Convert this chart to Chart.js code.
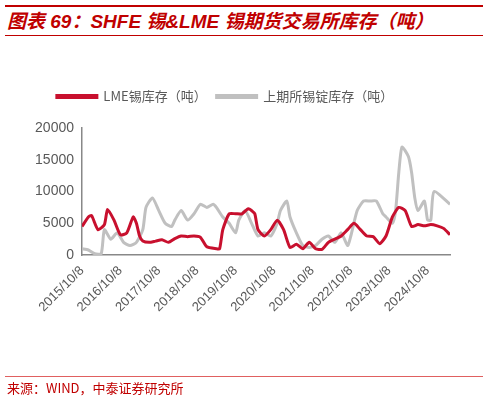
<!DOCTYPE html>
<html><head><meta charset="utf-8">
<script src="https://cdn.jsdelivr.net/npm/chart.js@4"></script>
<style>
body{margin:0;width:488px;height:400px;position:relative;background:#fff;overflow:hidden;font-family:"Noto Sans CJK SC",sans-serif}
#top{position:absolute;left:5px;right:5px;top:5px;height:2px;background:#C00000}
#title{position:absolute;left:7px;top:6px;color:#C00000;font-size:19px;font-weight:bold;font-style:italic;font-family:"Liberation Sans","Noto Sans CJK SC",sans-serif;white-space:nowrap}
#tline{position:absolute;left:5px;right:5px;top:35px;height:1px;background:#C00000}
#fline{position:absolute;left:5px;right:5px;top:376px;height:1px;background:#E06060}
#foot{position:absolute;left:7px;top:378px;color:#C00000;font-size:13px;white-space:nowrap}
canvas{position:absolute;left:0;top:0}
</style></head><body>
<div id="top"></div>
<div id="title">图表 69：SHFE 锡&amp;LME 锡期货交易所库存（吨）</div>
<div id="tline"></div>
<div style="position:absolute;left:0;top:0;width:488px;height:400px"><canvas id="c"></canvas></div>
<div id="fline"></div>
<div id="foot">来源：WIND，中泰证券研究所</div>
<script>
// x = 自 2015/10 起的月数
const lmeMonths = [0,2,3,5,7,8,10,12,14,16,17,18,19,21,23,25,27,29,31,33,35,37,39,42,43,44,46,48,50,52,53,54,55,57,59,61,63,65,67,69,71,73,75,77,79,81,83,85,87,89,91,93,95,97,99,101,103,105,107,109,111,113,115];
const lmeValues = [4500,6000,6200,4000,4800,7200,5500,3200,3500,6000,5000,3000,2200,2000,2200,2400,2000,2600,3000,2900,3000,2800,1300,1000,1000,4000,6500,6500,6500,7300,7000,6500,4000,3000,4000,5500,4000,1200,1700,1000,2000,1000,900,2000,2500,3000,4000,5000,4000,3000,2900,1800,3000,6000,7500,7000,4500,4800,4600,4800,4600,4200,3200,2700];
const shfeMonths = [0,2,4,6,7,9,11,13,15,17,19,20,22,24,26,28,29,31,33,35,37,39,41,42,44,46,48,49,51,53,55,57,59,61,62,64,65,67,69,71,73,75,77,79,81,83,84,86,88,90,92,94,95,97,98,99,100,102,103,104,105,107,108,109,110,115];
const shfeValues = [1000,800,200,200,4000,2500,3500,2000,1500,2000,4000,7500,9000,7000,5000,4500,5500,7000,5500,6500,8000,7500,8000,7500,6000,5000,3500,5500,7000,5000,3000,3500,3000,5000,7000,8500,6000,3500,1500,1200,1500,2500,3000,2000,3500,1500,3000,7000,8500,8500,8500,6500,6000,5000,7000,13000,17000,15500,13000,9000,7000,8500,5500,5500,10000,8000];
const yTicks = [0,5000,10000,15000,20000];
const xTickYears = [2015,2016,2017,2018,2019,2020,2021,2022,2023,2024];

const pts = (m, v) => m.map((x, i) => ({x, y: v[i]}));
const legendGap = {
  id: 'legendGap',
  beforeInit(chart) {
    const fit = chart.legend.fit;
    chart.legend.fit = function () { fit.bind(chart.legend)(); this.height += 15; };
  }
};
new Chart(document.getElementById('c'), {
  type: 'line',
  data: { datasets: [
    { label: 'LME锡库存（吨）', data: pts(lmeMonths, lmeValues), borderColor: '#C8102E', backgroundColor: '#C8102E', borderWidth: 3, pointRadius: 0, tension: 0.2, order: 1 },
    { label: '上期所锡锭库存（吨）', data: pts(shfeMonths, shfeValues), borderColor: '#C0C0C0', backgroundColor: '#C0C0C0', borderWidth: 3, pointRadius: 0, tension: 0.2, order: 2 }
  ]},
  plugins: [legendGap],
  options: {
    responsive: true, maintainAspectRatio: false, animation: false,
    layout: { padding: { top: 80, right: 38, bottom: 82, left: 0 } },
    plugins: {
      legend: { labels: { boxWidth: 40, boxHeight: 2, color: '#595959', font: { size: 13, family: '"Noto Sans CJK SC"' } } },
      tooltip: { enabled: false }
    },
    scales: {
      x: {
        type: 'linear', min: 0, max: 115,
        afterBuildTicks: s => { s.ticks = xTickYears.map((y, i) => ({ value: i * 12 })); },
        ticks: { autoSkip: false, maxRotation: 45, minRotation: 45, color: '#595959', font: { size: 13, family: 'Liberation Sans' },
                 callback: (v) => xTickYears[v / 12] + '/10/8' },
        grid: { display: false, drawTicks: true, tickLength: 5, tickColor: '#888' },
        border: { color: '#888', width: 1.5 }
      },
      y: {
        min: 0, max: 20000,
        afterBuildTicks: s => { s.ticks = yTicks.map(v => ({ value: v })); },
        afterFit: s => { s.width = 82; },
        ticks: { color: '#595959', font: { size: 14, family: 'Liberation Sans' }, callback: v => String(v) },
        grid: { display: false, drawTicks: true, tickLength: 5, tickColor: '#888' },
        border: { color: '#888', width: 1.5 }
      }
    }
  }
});
</script>
</body></html>
